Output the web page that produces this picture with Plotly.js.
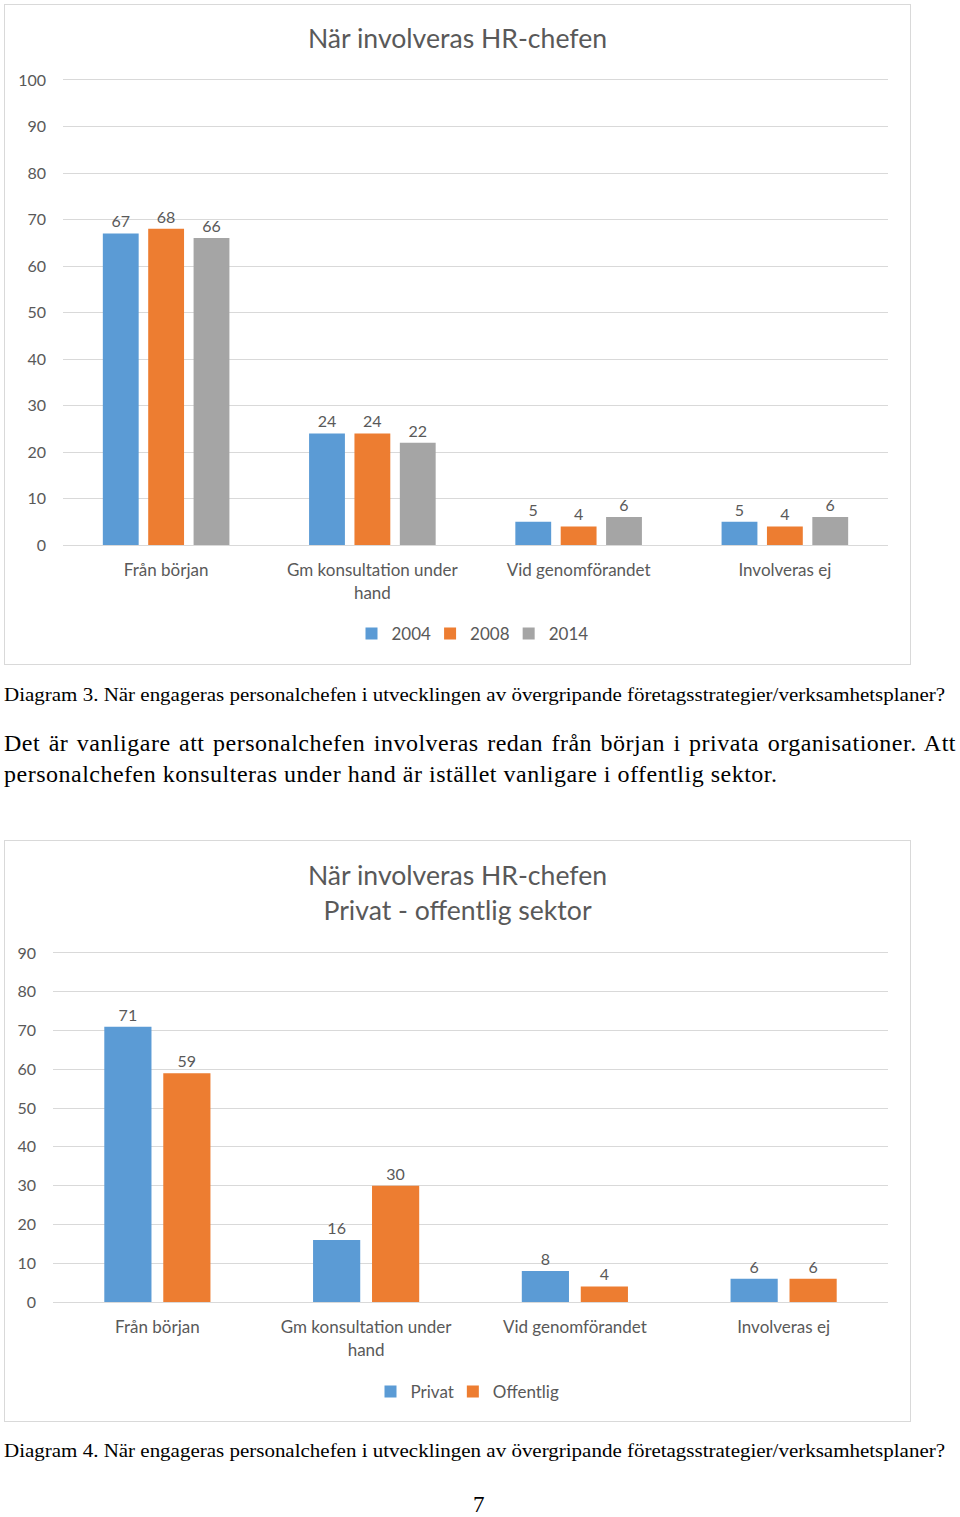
<!DOCTYPE html>
<html>
<head>
<meta charset="utf-8">
<script src="https://cdn.plot.ly/plotly-3.0.1.min.js"></script>
<style>
  html, body { margin: 0; padding: 0; background: #fff; }
  body { width: 960px; height: 1517px; position: relative; overflow: hidden; }
  .box { position: absolute; left: 4px; width: 905px; border: 1px solid #d9d9d9; box-sizing: content-box; }
  #c1 { top: 4px; height: 659px; }
  #c2 { top: 840px; height: 580px; }
  .serif { position: absolute; font-family: "Liberation Serif", "Times New Roman", serif; color: #000; white-space: nowrap; transform-origin: 0 0; }
</style>
</head>
<body>
<div id="c1" class="box"></div>
<div class="serif fit" id="cap1" data-w="941" style="left:4px; top:685px; font-size:18px;">Diagram 3. När engageras personalchefen i utvecklingen av övergripande företagsstrategier/verksamhetsplaner?</div>
<div class="serif" id="body1" style="left:4px; top:728px; width:952px; font-size:24px; letter-spacing:0.5px; line-height:31px; text-align:justify; text-align-last:left; white-space:normal;">Det är vanligare att personalchefen involveras redan från början i privata organisationer. Att personalchefen konsulteras under hand är istället vanligare i offentlig sektor.</div>
<div id="c2" class="box"></div>
<div class="serif fit" id="cap2" data-w="941" style="left:4px; top:1441px; font-size:18px;">Diagram 4. När engageras personalchefen i utvecklingen av övergripande företagsstrategier/verksamhetsplaner?</div>
<div class="serif" style="left:473px; top:1492px; font-size:23px;">7</div>
<script>
// ---- data ----
const categories = ["Från början", "Gm konsultation under<br>hand", "Vid genomförandet", "Involveras ej"];
const years = ["2004", "2008", "2014"];
const values2004 = [67, 24, 5, 5];
const values2008 = [68, 24, 4, 4];
const values2014 = [66, 22, 6, 6];
const sectors = ["Privat", "Offentlig"];
const valuesPrivat = [71, 16, 8, 6];
const valuesOffentlig = [59, 30, 4, 6];
const title1 = "När involveras HR-chefen";
const title2 = "När involveras HR-chefen<br>Privat - offentlig sektor";

const BLUE = "#5B9BD5", ORANGE = "#ED7D31", GRAY = "#A5A5A5", TXT = "#595959";
const FONT = "Lato, 'Open Sans', sans-serif";

function barTrace(name, vals, color) {
  return {
    type: "bar", name: name, x: categories, y: vals,
    marker: { color: color },
    text: vals.map(String), textposition: "outside", cliponaxis: false,
    textfont: { family: FONT, size: 16, color: TXT },
    hoverinfo: "skip"
  };
}

function baseLayout(opts) {
  return {
    width: 905, height: opts.h,
    margin: opts.margin,
    paper_bgcolor: "#fff", plot_bgcolor: "#fff",
    font: { family: FONT, size: 16, color: TXT },
    title: { text: opts.title, font: { family: FONT, size: 26.6, color: TXT }, x: 0.5, xanchor: "center", y: opts.titleY, yanchor: "middle", yref: "container" },
    barmode: "group", bargap: opts.bargap, bargroupgap: opts.bargroupgap,
    showlegend: true,
    legend: { orientation: "h", x: 0.5, xanchor: "center", y: opts.legendY, yanchor: "middle", yref: "container",
              font: { family: FONT, size: 17, color: TXT }, itemwidth: 30, indentation: -6,
              traceorder: "normal" },
    xaxis: { type: "category", showgrid: false, showline: true, mirror: true, linecolor: "#d9d9d9", linewidth: 1,
             ticks: "", ticklabelstandoff: 10, tickfont: { family: FONT, size: 17, color: TXT }, fixedrange: true },
    yaxis: { range: opts.yrange, dtick: 10, showgrid: true, gridcolor: "#d9d9d9", gridwidth: 1,
             zeroline: false, showline: false, ticks: "", ticklabelstandoff: 16,
             tickfont: { family: FONT, size: 16, color: TXT }, fixedrange: true }
  };
}

Plotly.newPlot("c1", [
  barTrace(years[0], values2004, BLUE),
  barTrace(years[1], values2008, ORANGE),
  barTrace(years[2], values2014, GRAY)
], baseLayout({ h: 659, margin: { l: 58, r: 22, t: 75, b: 119 }, title: title1, titleY: 1 - 34/659,
  bargap: 0.34, bargroupgap: 0.21, yrange: [0, 100], legendY: 1 - 629/659 }), { displayModeBar: false, staticPlot: true });

Plotly.newPlot("c2", [
  barTrace(sectors[0], valuesPrivat, BLUE),
  barTrace(sectors[1], valuesOffentlig, ORANGE)
], baseLayout({ h: 580, margin: { l: 48, r: 22, t: 112, b: 119 }, title: title2, titleY: 1 - 44/580,
  bargap: 0.435, bargroupgap: 0.2, yrange: [0, 90], legendY: 1 - 551/580 }), { displayModeBar: false, staticPlot: true });

// fit caption widths
document.querySelectorAll(".fit").forEach(function (el) {
  const w = el.getBoundingClientRect().width;
  const target = parseFloat(el.dataset.w);
  el.style.transform = "scaleX(" + (target / w) + ")";
});
</script>
</body>
</html>
